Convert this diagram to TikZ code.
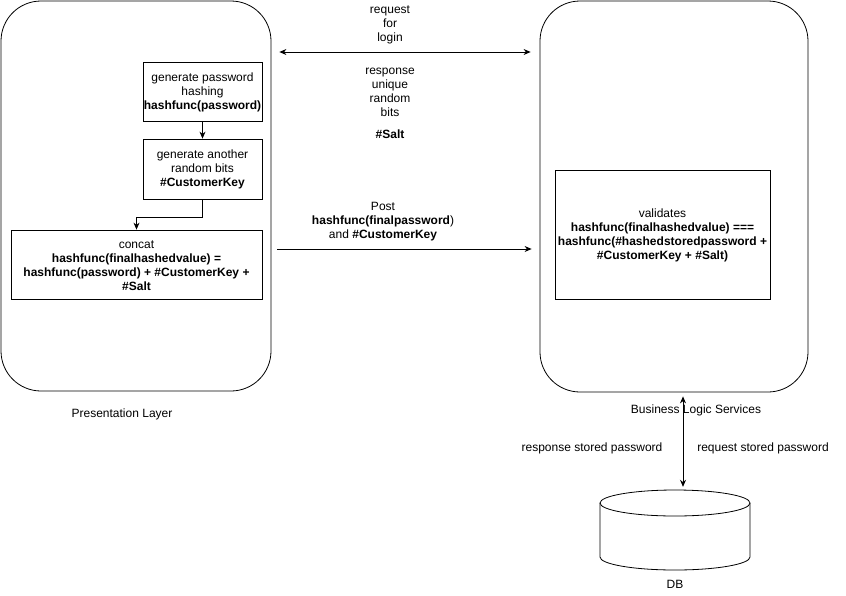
\documentclass[tikz,border=0pt]{standalone}
\usepackage{fontspec}
\setmainfont{Liberation Sans}
\usetikzlibrary{arrows.meta,calc}
\begin{document}
\begin{tikzpicture}[x=1pt,y=-1pt,
  font=\fontsize{12}{14}\selectfont,
  container/.style={draw,line width=0.8pt,rounded corners=40pt,inner sep=0pt},
  box/.style={draw,line width=0.8pt,align=center,inner sep=0pt},
  lbl/.style={align=center,inner sep=0pt},
  arr/.style={line width=0.8pt,-{Stealth[length=7pt,width=6pt]}},
  arrtwo/.style={line width=0.8pt,{Stealth[length=7pt,width=6pt]}-{Stealth[length=7pt,width=6pt]}}]
\useasboundingbox (0,0) rectangle (846,595);
% containers
\node[container,minimum width=270pt,minimum height=390pt] (pl) at (136,196) {};
\node[container,minimum width=268pt,minimum height=391pt] (bl) at (674,196.5) {};
% left boxes
\node[box,minimum width=119pt,minimum height=59pt] (b1) at (202.5,92)
  {\strut generate password\\hashing\\\textbf{hashfunc(password)}};
\node[box,minimum width=119pt,minimum height=60pt] (b2) at (202.5,169)
  {\strut generate another\\random bits\\\textbf{\#CustomerKey}};
\node[box,minimum width=251pt,minimum height=69pt] (b3) at (136.5,264.5)
  {\strut concat\\\textbf{hashfunc(finalhashedvalue) =}\\\textbf{hashfunc(password) + \#CustomerKey +}\\\textbf{\#Salt}};
% right box
\node[box,minimum width=215pt,minimum height=129pt] (v) at (662.5,234.5)
  {\strut validates\\\textbf{hashfunc(finalhashedvalue) ===}\\\textbf{hashfunc(\#hashedstoredpassword +}\\\textbf{\#CustomerKey + \#Salt)}};
% DB cylinder
\node[minimum width=150pt,minimum height=80pt,inner sep=0pt] (db) at (675,530) {};
\draw[line width=0.8pt] (675,503) ellipse [x radius=75,y radius=13];
\draw[line width=0.8pt] (600,503) -- (600,557) arc[start angle=180,end angle=0,x radius=75,y radius=13] -- (750,503);
% connectors
\draw[arr] (b1.south) -- (b2.north);
\draw[arr] (b2.south) -- ++(0,18) -| (b3.north);
\coordinate (ya) at (0,52);
\coordinate (yb) at (0,249);
\coordinate (vx) at (683,0);
\draw[arrtwo,shorten <=8pt,shorten >=9pt] (pl.east |- ya) -- (bl.west |- ya);
\draw[arr,shorten <=6pt,shorten >=8pt] (pl.east |- yb) -- (bl.west |- yb);
\draw[arrtwo,shorten <=4pt,shorten >=3pt] (bl.south -| vx) -- (db.north -| vx);
% labels
\node[lbl] (l1) at (390,25) {request\\for\\login};
\node[lbl] (l2) at (390,92) {response\\unique\\random\\bits};
\node[lbl] (l3) at (390,134) {\textbf{\#Salt}};
\node[lbl] (l4) at (383,222) {Post\\\textbf{hashfunc(finalpassword})\\and \textbf{\#CustomerKey}};
\node[lbl] (pln) at (122,414) {Presentation Layer};
\node[lbl] (bln) at (696,410) {Business Logic Services};
\node[lbl] (rs1) at (592,448) {response stored password};
\node[lbl] (rs2) at (763,448) {request stored password};
\node[lbl] (dbn) at (675,584) {DB};
\end{tikzpicture}
\end{document}
